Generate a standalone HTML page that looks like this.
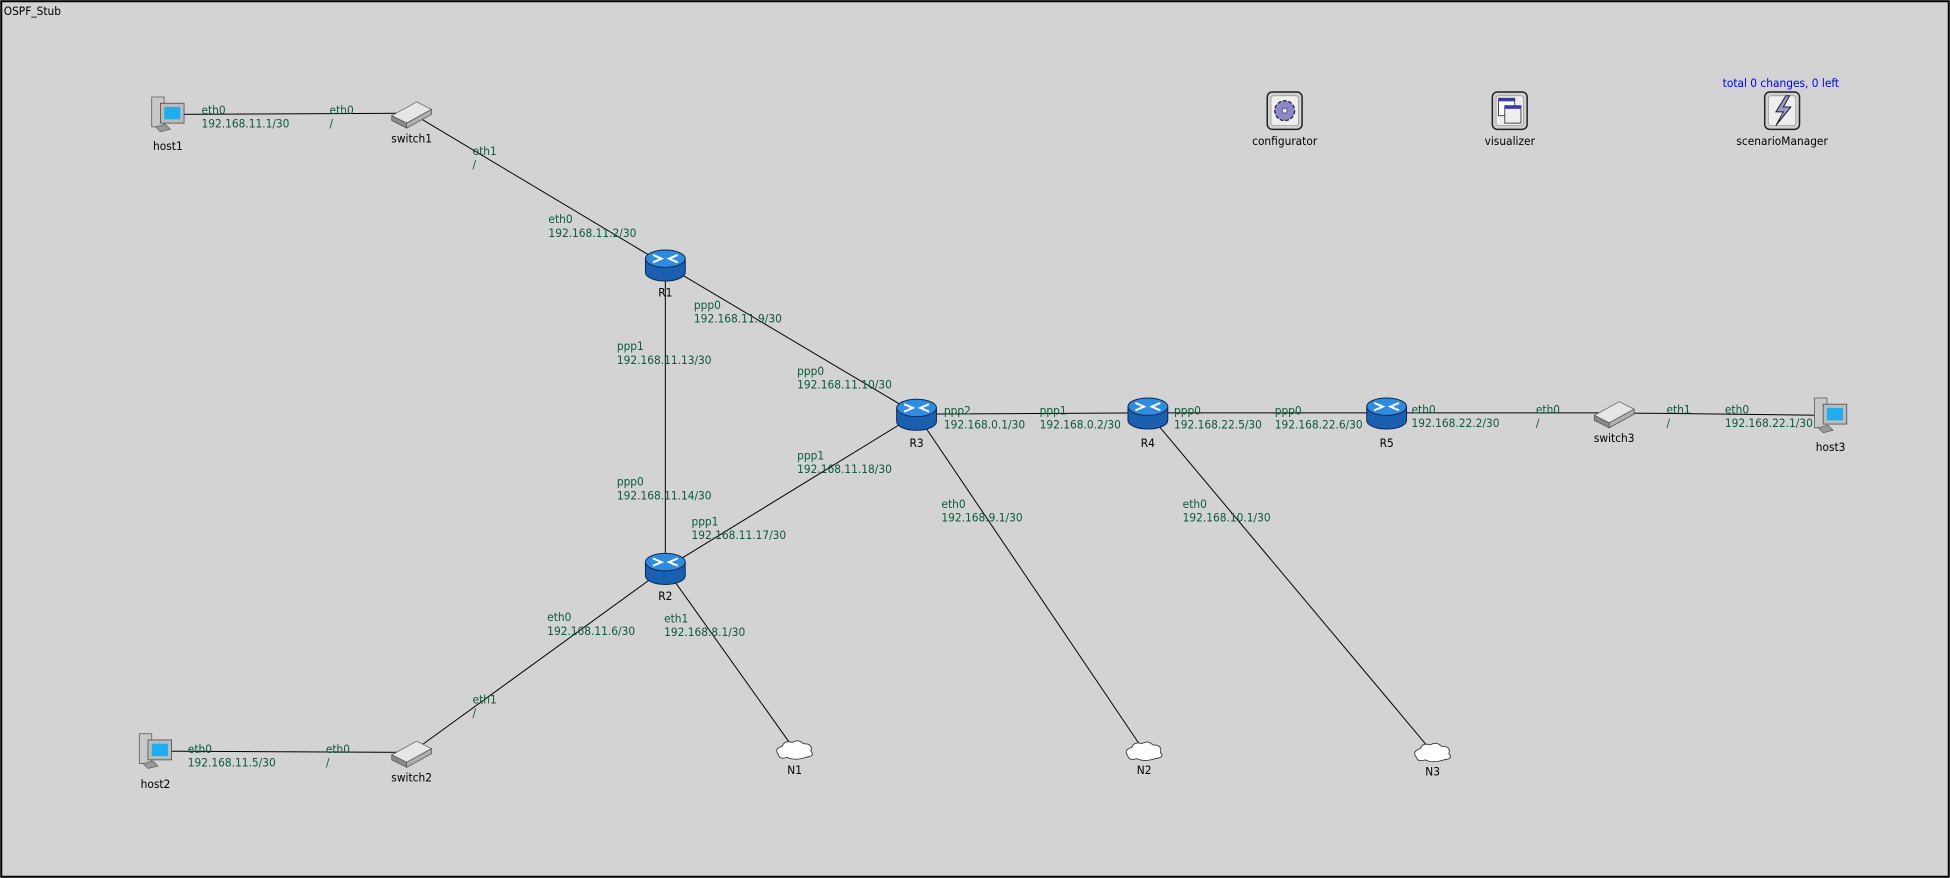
<!DOCTYPE html>
<html><head><meta charset="utf-8"><style>
html,body{margin:0;padding:0;background:#d3d3d3;width:1950px;height:878px;overflow:hidden}
svg{display:block}
text{font-family:"DejaVu Sans Condensed","Liberation Sans Narrow","Liberation Sans",sans-serif}
</style></head><body>
<svg id="net" width="1950" height="878" viewBox="0 0 1568 706" preserveAspectRatio="none" xmlns="http://www.w3.org/2000/svg">
<rect x="1" y="1" width="1566" height="704" fill="#d3d3d3" stroke="#000" stroke-width="1.6"/>
<text x="3" y="12" font-size="9.5" fill="#000">OSPF_Stub</text>
<text x="1432" y="70" font-size="9.5" fill="#0000ff" text-anchor="middle">total 0 changes, 0 left</text>
<g id="links"></g>
<g id="labels"></g>
<g id="nodes"></g>
</svg>
<script>
const nodeNames = ["host1","switch1","R1","R3","R4","R5","switch3","host3","R2","host2","switch2","N1","N2","N3","configurator","visualizer","scenarioManager"];
const nodeTypes = ["host","switch","router","router","router","router","switch","host","router","host","switch","cloud","cloud","cloud","config","visual","scenario"];
const nodeX = [135,331,535,737,923,1115,1298,1472,535,125,331,639,920,1152,1033,1214,1433];
const nodeY = [92,91,213,333,332,332,332,334,457,604,605,603,604,605,89,89,89];
const labelDY = [25,20,22,23,24,24,20,25,22,26,20,16,15,15,24,24,24];
const linkFrom = ["host1","switch1","R1","R1","R3","R3","R4","R5","switch3","R2","R2","switch2","R3","R4"];
const linkTo = ["switch1","R1","R3","R2","R2","R4","R5","switch3","host3","switch2","N1","host2","N2","N3"];
const ifaceName = ["eth0","eth0","eth1","eth0","ppp0","ppp1","ppp0","ppp2","ppp1","ppp0","ppp0","eth0","eth0","eth1","eth0","ppp1","eth0","eth0","ppp0","ppp1","eth0","eth1","eth1","eth0","eth0"];
const ifaceAddr = ["192.168.11.1/30","/","/","192.168.11.2/30","192.168.11.9/30","192.168.11.13/30","192.168.11.10/30","192.168.0.1/30","192.168.0.2/30","192.168.22.5/30","192.168.22.6/30","192.168.22.2/30","/","/","192.168.22.1/30","192.168.11.18/30","192.168.9.1/30","192.168.10.1/30","192.168.11.14/30","192.168.11.17/30","192.168.11.6/30","192.168.8.1/30","/","192.168.11.5/30","/"];
const ifaceX = [162,265,380,441,558,496,641,759,836,944,1025,1135,1235,1340,1387,641,757,951,496,556,440,534,380,151,262];
const ifaceY = [88,88,121,176,245,278,298,330,330,330,330,329,329,329,329,366,405,405,387,419,496,497,562,602,602];

const NS="http://www.w3.org/2000/svg";
function mk(tag,attrs,parent){const e=document.createElementNS(NS,tag);for(const k in attrs)e.setAttribute(k,attrs[k]);parent.appendChild(e);return e;}
const gL=document.getElementById('links'),gT=document.getElementById('labels'),gN=document.getElementById('nodes');
function idx(n){return nodeNames.indexOf(n);}
for(let i=0;i<linkFrom.length;i++){
  const a=idx(linkFrom[i]),b=idx(linkTo[i]);
  const l=mk('line',{x1:nodeX[a],y1:nodeY[a],x2:nodeX[b],y2:nodeY[b],stroke:'#000','stroke-width':0.8},gL);
  
  
}
for(let i=0;i<ifaceName.length;i++){
  const t=mk('text',{x:ifaceX[i],y:ifaceY[i]+3.5,'font-size':9.5,fill:'#0b5a3c'},gT);
  
  
  t.textContent=ifaceName[i];
  const t2=mk('text',{x:ifaceX[i],y:ifaceY[i]+14.5,'font-size':9.5,fill:'#0b5a3c'},gT);
  
  
  t2.textContent=ifaceAddr[i];
}
function drawIcon(type,x,y,g){
  if(type==='router'){
    mk('path',{d:`M${x-16},${y-5} L${x-16},${y+6} A16 7 0 0 0 ${x+16},${y+6} L${x+16},${y-5} Z`,fill:'#1a5fb0',stroke:'#0a2a55','stroke-width':0.8},g);
    mk('ellipse',{cx:x,cy:y-5,rx:16,ry:7,fill:'#2f8be0',stroke:'#0a2a55','stroke-width':0.8},g);
    mk('path',{d:`M${x-10},${y-8} L${x-3},${y-5} L${x-10},${y-2} M${x+10},${y-8} L${x+3},${y-5} L${x+10},${y-2}`,stroke:'#fff','stroke-width':1.6,fill:'none'},g);
  } else if(type==='switch'){
    mk('path',{d:`M${x-16},${y+2} L${x+4},${y-9} L${x+16},${y-3} L${x-4},${y+8} Z`,fill:'#e6e6e6',stroke:'#666','stroke-width':0.6},g);
    mk('path',{d:`M${x-16},${y+2} L${x-4},${y+8} L${x-4},${y+12} L${x-16},${y+6} Z`,fill:'#8a8a8a',stroke:'#555','stroke-width':0.6},g);
    mk('path',{d:`M${x-4},${y+8} L${x+16},${y-3} L${x+16},${y+1} L${x-4},${y+12} Z`,fill:'#b0b0b0',stroke:'#555','stroke-width':0.6},g);
  } else if(type==='host'){
    mk('rect',{x:x-13,y:y-14,width:10,height:24,fill:'#c8c8c8',stroke:'#555','stroke-width':0.6},g);
    mk('rect',{x:x-6,y:y-9,width:19,height:16,fill:'#bbb',stroke:'#444','stroke-width':0.6},g);
    mk('rect',{x:x-3,y:y-6,width:13,height:10,fill:'#1eaef0'},g);
    mk('path',{d:`M${x-10},${y+10} L${x-2},${y+8} L${x+2},${y+12} L${x-6},${y+14} Z`,fill:'#999',stroke:'#555','stroke-width':0.5},g);
  } else if(type==='cloud'){
    mk('path',{d:`M${x-13},${y+4} Q${x-17},${y-1} ${x-10},${y-3} Q${x-8},${y-8} ${x-2},${y-6} Q${x+3},${y-9} ${x+7},${y-5} Q${x+15},${y-5} ${x+13},${y+1} Q${x+17},${y+5} ${x+9},${y+6} Q${x},${y+9} ${x-6},${y+6} Q${x-12},${y+8} ${x-13},${y+4} Z`,fill:'#fff',stroke:'#333','stroke-width':0.7},g);
  } else {
    mk('rect',{x:x-14,y:y-15,width:28,height:30,rx:4,fill:'#d0d0d0',stroke:'#222','stroke-width':1.2},g);
    mk('rect',{x:x-11,y:y-12,width:22,height:24,rx:2,fill:'#eee',stroke:'#888','stroke-width':0.5},g);
    if(type==='config'){
      mk('circle',{cx:x,cy:y,r:8,fill:'#8a88c8',stroke:'#222','stroke-width':1,'stroke-dasharray':'3 1.5'},g);
      mk('circle',{cx:x,cy:y,r:2,fill:'#eee',stroke:'#222','stroke-width':0.5},g);
    } else if(type==='visual'){
      mk('rect',{x:x-9,y:y-10,width:13,height:14,fill:'#fff',stroke:'#333','stroke-width':0.7},g);
      mk('rect',{x:x-9,y:y-10,width:13,height:2.5,fill:'#3a3ab0'},g);
      mk('rect',{x:x-4,y:y-4,width:13,height:14,fill:'#eee',stroke:'#333','stroke-width':0.7},g);
      mk('rect',{x:x-4,y:y-4,width:13,height:2.5,fill:'#3a3ab0'},g);
    } else {
      mk('path',{d:`M${x+3},${y-12} L${x-5},${y+1} L${x+1},${y+1} L${x-5},${y+12} L${x+7},${y-3} L${x+1},${y-3} L${x+6},${y-12} Z`,fill:'#9a98d8',stroke:'#222','stroke-width':0.8},g);
    }
  }
}
for(let i=0;i<nodeNames.length;i++){
  const g=mk('g',{},gN);
  
  
  drawIcon(nodeTypes[i],nodeX[i],nodeY[i],g);
  const t=mk('text',{x:nodeX[i],y:nodeY[i]+labelDY[i]+3.5,'font-size':9.5,fill:'#000','text-anchor':'middle'},g);
  
  
  t.textContent=nodeNames[i];
}
</script>
</body></html>
